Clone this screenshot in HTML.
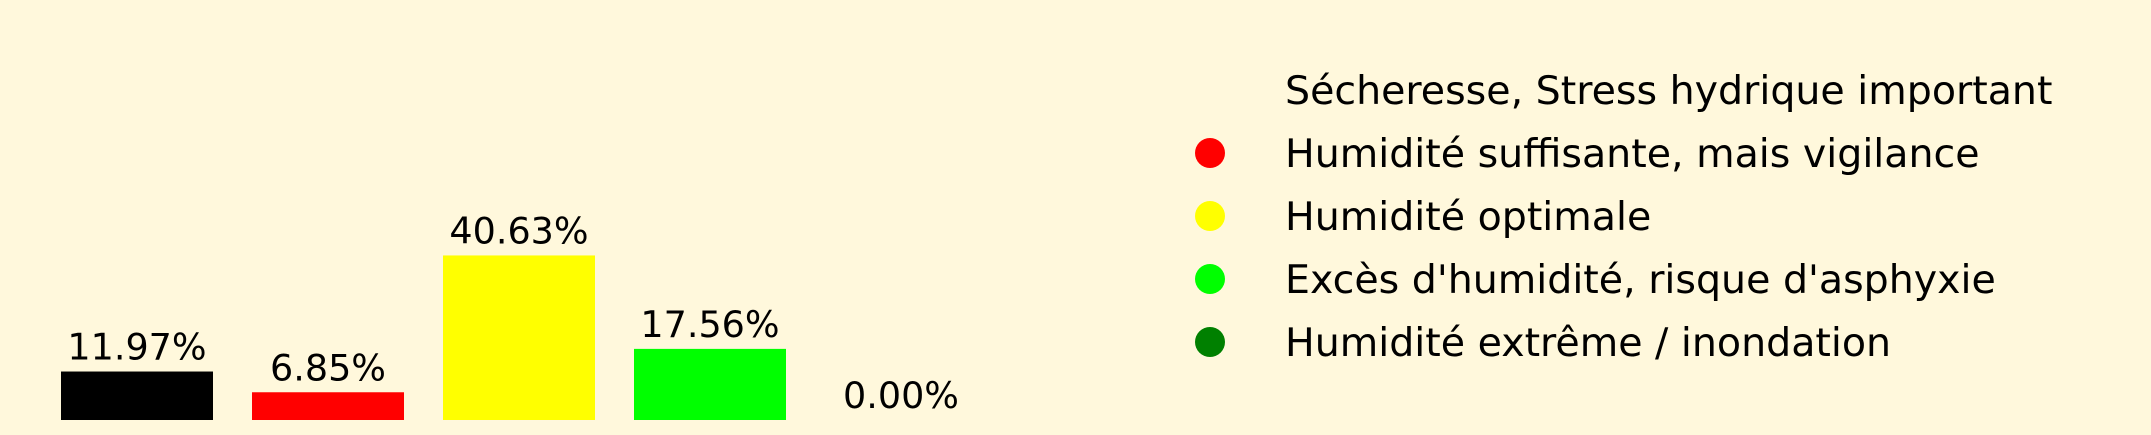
<!DOCTYPE html>
<html><head><meta charset="utf-8"><style>
body{margin:0;background:#fff8dc;}
svg{display:block;font-family:"DejaVu Sans","Liberation Sans",sans-serif;}
</style></head><body>
<svg id="chart" width="2151" height="435">
<rect width="2151" height="435" fill="#fff8dc"/>
<g id="bars"></g>
<g id="legend"></g>
</svg>
<script>
const categories = ["Sécheresse, Stress hydrique important","Humidité suffisante, mais vigilance","Humidité optimale","Excès d'humidité, risque d'asphyxie","Humidité extrême / inondation"];
const values = [11.97, 6.85, 40.63, 17.56, 0.00];
const colors = ["#000000","#ff0000","#ffff00","#00ff00","#008000"];
const ns="http://www.w3.org/2000/svg";
const baseY=420, scale=4.05, x0=61, step=191, bw=152;
const yPos=v=>baseY-v*scale;
const xPos=i=>x0+i*step;
const bars=document.getElementById('bars');
values.forEach((v,i)=>{
  const r=document.createElementNS(ns,'rect');
  r.setAttribute('x',xPos(i));r.setAttribute('y',yPos(v));
  r.setAttribute('width',bw);r.setAttribute('height',baseY-yPos(v));
  r.setAttribute('fill',colors[i]);
  
  
  bars.appendChild(r);
  const t=document.createElementNS(ns,'text');
  t.setAttribute('x',xPos(i)+bw/2);t.setAttribute('y',yPos(v)-12);
  t.setAttribute('text-anchor','middle');t.setAttribute('font-size','36.5');
  t.textContent=v.toFixed(2)+'%';
  
  
  bars.appendChild(t);
});
const lg=document.getElementById('legend');
categories.forEach((c,i)=>{
  const cy=90+i*63;
  if(i>0){
    const m=document.createElementNS(ns,'circle');
    m.setAttribute('cx',1210);m.setAttribute('cy',cy);m.setAttribute('r',15);
    m.setAttribute('fill',colors[i]);
    
    
    lg.appendChild(m);
  }
  const t=document.createElementNS(ns,'text');
  t.setAttribute('x',1285);t.setAttribute('y',cy+14);t.setAttribute('font-size','39.5');
  t.textContent=c;
  
  
  lg.appendChild(t);
});
</script>
</body></html>
